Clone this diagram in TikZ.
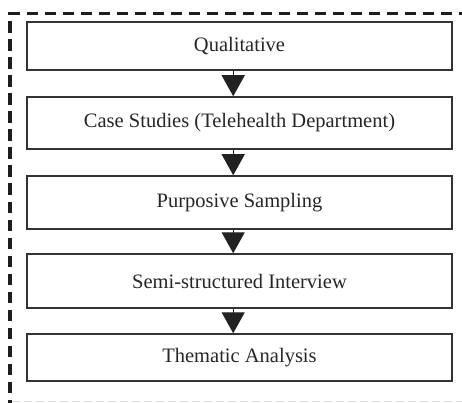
\documentclass[tikz,border=0pt]{standalone}
\usepackage{fontspec}
\setmainfont{Liberation Serif}
\usetikzlibrary{arrows.meta,calc}
\definecolor{boxline}{HTML}{333333}
\definecolor{arrowfill}{HTML}{222222}
\definecolor{frameline}{HTML}{1E1E1E}
\definecolor{framefaint}{HTML}{DDDDDD}
\tikzset{
  stepbox/.style={draw=boxline, line width=1.5pt, fill=white,
    minimum width=425pt, inner sep=0pt, text=black!85,
    font=\fontsize{20.5}{24}\selectfont},
  flow/.style={draw=arrowfill, line width=1.3pt,
    -{Triangle[width=23pt,length=21pt,fill=arrowfill]}},
  frame/.style={draw=frameline, line width=3.6pt, dash pattern=on 11.5pt off 6.5pt},
}
\begin{document}
\begin{tikzpicture}[x=1pt,y=-1pt]
\useasboundingbox (0,0) rectangle (462,403);
% dashed outer frame
\coordinate (fTL) at (10,13.5);
\coordinate (fTR) at (470,13.5);
\coordinate (fBL) at (10,403);
\draw[frame] (fTR) -- (fTL) -- (fBL);
\draw[draw=framefaint, line width=1pt, dash pattern=on 8pt off 4pt] (12,401.5) -- (470,401.5);
% process steps
\node[stepbox, minimum height=48pt] (s1) at (239.5,46) {Qualitative};
\node[stepbox, minimum height=52pt] (s2) at (239.5,123) {Case Studies (Telehealth Department)};
\node[stepbox, minimum height=53pt] (s3) at (239.5,202.5) {Purposive Sampling};
\node[stepbox, minimum height=54pt] (s4) at (239.5,281) {Semi-structured Interview};
\node[stepbox, minimum height=47pt] (s5) at (239.5,357.5) {Thematic Analysis};
% connectors
\foreach \a/\b in {s1/s2,s2/s3,s3/s4,s4/s5}
  \draw[flow] ($(\a.south)+(-6.3,0)$) -- ($(\b.north)+(-6.3,0)$);
\end{tikzpicture}
\end{document}
